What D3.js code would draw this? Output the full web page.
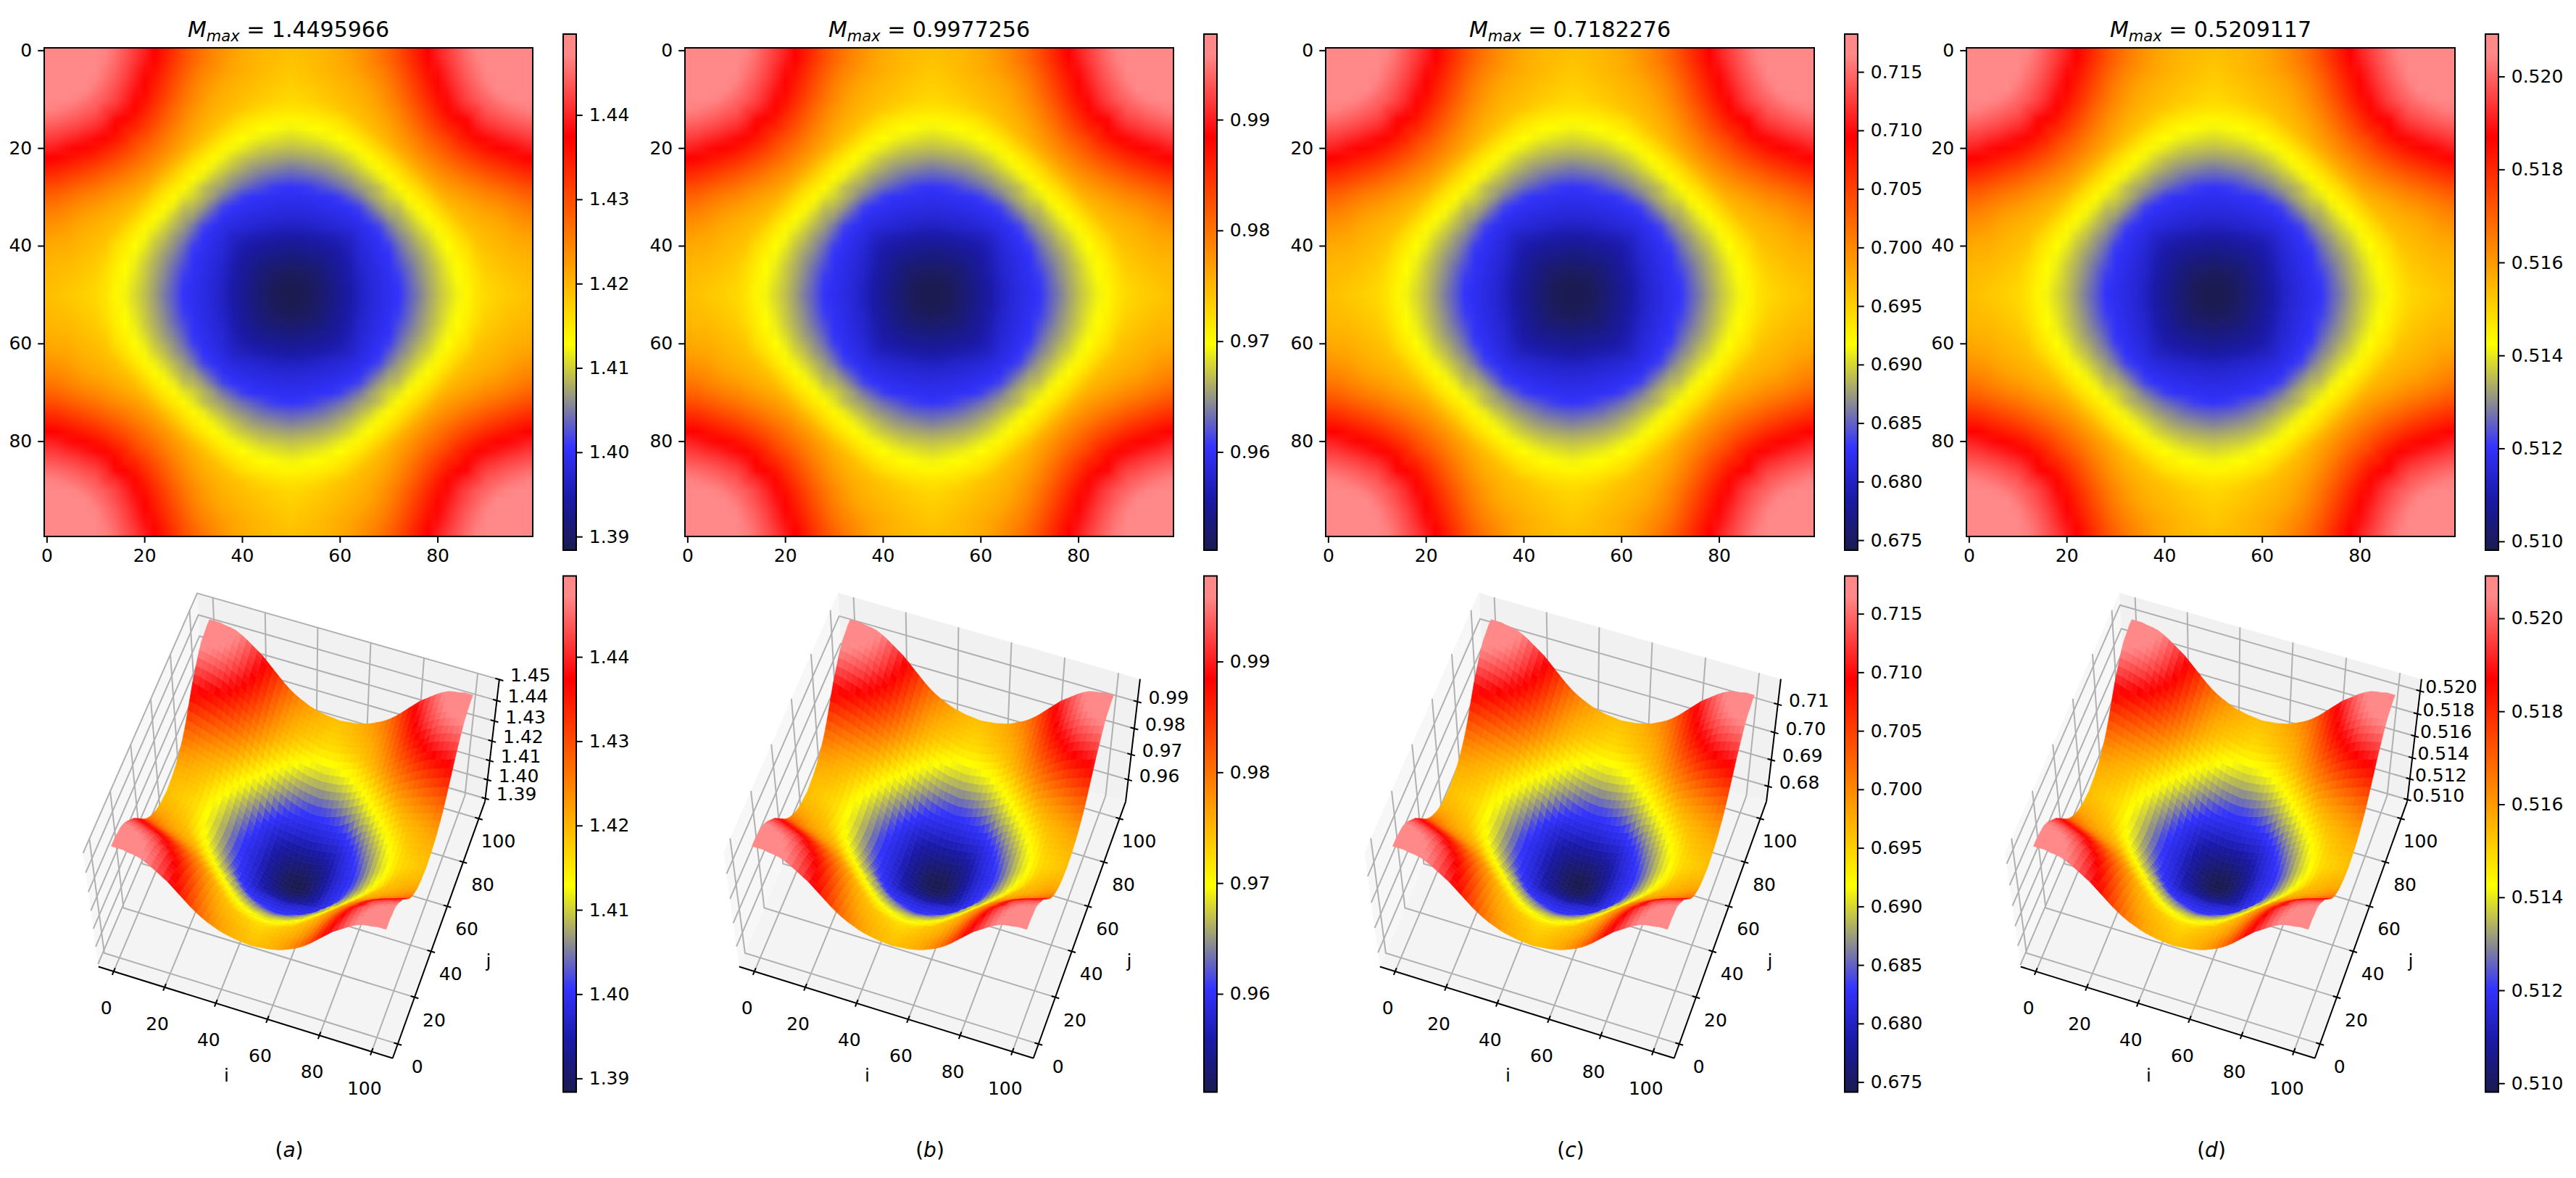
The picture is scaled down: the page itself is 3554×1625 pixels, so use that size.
<!DOCTYPE html>
<html>
<head>
<meta charset="utf-8">
<script src="https://cdn.jsdelivr.net/npm/d3@7"></script>
<style>
  html, body { margin: 0; background: #fff; }
  svg text { font-family: "DejaVu Sans", sans-serif; fill: #000; }
</style>
</head>
<body>
<svg id="chart" width="3554" height="1625"></svg>
<script>
// Values
const panelLetters = ["a", "b", "c", "d"];
const panelTitles = ["1.4495966", "0.9977256", "0.7182276", "0.5209117"];
const panelMin = [1.38838, 0.95113, 0.67414, 0.50981];
const panelMax = [1.4495966, 0.9977256, 0.7182276, 0.5209117];
const barTicks = [
    [1.39, 1.40, 1.41, 1.42, 1.43, 1.44],
    [0.96, 0.97, 0.98, 0.99],
    [0.675, 0.680, 0.685, 0.690, 0.695, 0.700, 0.705, 0.710, 0.715],
    [0.510, 0.512, 0.514, 0.516, 0.518, 0.520]
];
const barFormats = [".2f", ".2f", ".3f", ".3f"];
const zTicks = [
    [1.39, 1.40, 1.41, 1.42, 1.43, 1.44, 1.45],
    [0.96, 0.97, 0.98, 0.99],
    [0.68, 0.69, 0.70, 0.71],
    [0.510, 0.512, 0.514, 0.516, 0.518, 0.520]
];
const zFormats = [".2f", ".2f", ".2f", ".3f"];
const heatTicks = [0, 20, 40, 60, 80];
const surfaceTicks = [0, 20, 40, 60, 80, 100];

// Colormap stops, as a share of each panel's range
const colorStops = [0, 0.1, 0.2, 0.4, 0.8, 0.96, 1];
const colorValues = ["#1b1b50", "#1a1aa6", "#3333ff", "#ffff00", "#ff0000", "#ff8888", "#ff8888"];

// Field level (percent of the panel's range), read every 2 cells on a quarter of the
// map. All four panels show the same shape and the map mirrors about i=50, j=50 and i=j,
// so row r starts at column r.
const levelRows = [
    [100,100,100,99,98.5,97.5,95.5,93,90,87,84,80,76,72,68,64.5,61.5,59,57,55,53.5,52.5,51.5,51,50.5,50],
    [100,100,99,98.5,97,95,92.5,89.5,86.5,83,79.5,75.5,71.5,67.5,64,61,58.5,56.5,54.5,53,52,51,50.5,50,49.5],
    [99,98.7,97.5,96,94,91.5,88.5,85,81.5,78,74,70,66,62.5,59.5,57.5,55.5,54,52.8,51.8,50.8,50,49.2,48.6],
    [98,97,95.5,93,90.5,87.5,84,80.5,76.5,72.5,68.5,64.5,61,58.2,56,54,52.8,51.8,50.8,50,49.2,48.5,48],
    [96,94,91.5,89,86,82.5,79,75,71,67,63,59.5,56.8,54.5,53,51.8,50.8,50,49,48.2,47.5,47],
    [92,90.5,87.8,84.8,81,77.5,73.5,69.5,65.5,61.8,58.5,55.8,53.5,52,50.8,50,49,48.2,47.4,46.5,46],
    [87,85.3,82.5,79,75.5,71.5,67.5,63.5,60,57,54.5,52.5,51,50,48.8,47.4,45.8,44.8,44.5,44.3],
    [81,79.5,76.5,73,69.3,65.5,62,58.5,55.5,53,51.3,50,47.5,45,44,43,42.3,41.7,41.3],
    [75.5,74,70.5,67,63.5,60,56.8,54,51.8,50,47,44.5,43.2,41.8,40.3,39.7,39.2,38.8],
    [70,67.5,64.5,61,58,55.3,52.5,50,46.8,44,42,40,39,38.2,37.5,36.8,36.3],
    [64.5,62,59,56,53.3,50,46.5,43.7,41.2,39.2,37.8,36.4,35,34.6,34.1,33.7],
    [59,56.5,53.5,50,46,43.4,40.7,38.6,36.2,34.5,33.2,32.3,31.6,31,30.7],
    [53.5,50,46,43.3,41,38.3,35.8,33.8,32,30.2,29.2,28.4,27.6,27],
    [46.5,43.5,41,38,35,33,30.5,29,27.5,25.8,24.8,24.2,23.8],
    [41,37.5,34,32,30.2,27.8,25.6,23.8,22.5,21,20.3,19.8],
    [35.5,32.8,30.3,26.5,23.8,21,19.6,19.2,18.9,18.5,18.2],
    [30,26,21.8,19.8,18.9,18.2,17.7,17.3,17,16.8],
    [22.5,19.2,18,17.2,16.6,16.1,15.8,15.5,15.4],
    [17.8,16.5,15.6,15,14.3,13.8,13.2,13],
    [14,13,12,11.4,10.8,10.3,10],
    [11,10,9,8.5,8,7.5],
    [8.5,7.2,6.4,5.8,5.3],
    [5.2,4.3,3.7,3.3],
    [2.6,1.9,1.2],
    [0.6,0.3],
    [0]
];

// Layout
const panelStep = 884;
const heatLeft = 61, heatTop = 66, heatSize = 674;
const barLeft = 777, barWidth = 18, barHeight = 712;
const barTops = [47, 794.5];
const tickLen = 8.75;

// 3D view
const elev = 60 * Math.PI / 180, azim = -71 * Math.PI / 180;
const boxHeight = 0.75, camDist = 8.75, viewScale = 435;
const viewCx = 407, viewCy = 1139;
const surfaceShiftI = 2;

function levelAt(i, j) {
    // index 99 falls on the same sample as index 0 after mirroring
    let a = Math.floor(Math.min(i, 100 - i) / 2);
    let b = Math.floor(Math.min(j, 100 - j) / 2);
    if (a > b) [a, b] = [b, a];
    return levelRows[a][b - a];
}

const svg = d3.select("#chart");
const defs = svg.append("defs");

const w = [Math.cos(elev) * Math.cos(azim), Math.cos(elev) * Math.sin(azim), Math.sin(elev)];
const u = [-Math.sin(azim), Math.cos(azim), 0];
const v = [
    w[1] * u[2] - w[2] * u[1],
    w[2] * u[0] - w[0] * u[2],
    w[0] * u[1] - w[1] * u[0]
];
const dot = (a, b) => a[0] * b[0] + a[1] * b[1] + a[2] * b[2];

function drawPanel(k) {
    const vmin = panelMin[k], vmax = panelMax[k];
    const g = svg.append("g").attr("transform", `translate(${k * panelStep},0)`);

    const color = d3.scaleLinear()
        .domain(colorStops.map(s => vmin + s * (vmax - vmin)))
        .range(colorValues)
        .clamp(true);
    const levelValue = d3.scaleLinear().domain([0, 100]).range([vmin, vmax]);

    drawHeatmap(g, k, color, levelValue);
    drawColorbar(g, k, color, barTops[0]);
    drawColorbar(g, k, color, barTops[1]);
    drawSurface(g, k, color, levelValue);

    // Panel caption
    const caption = g.append("text")
        .attr("x", 399).attr("y", 1596)
        .attr("text-anchor", "middle")
        .style("font-size", "28px");
    caption.append("tspan").text("(");
    caption.append("tspan").style("font-style", "italic").text(panelLetters[k]);
    caption.append("tspan").text(")");
}

function drawHeatmap(g, k, color, levelValue) {
    const x = d3.scaleLinear().domain([-0.5, 99.5]).range([heatLeft, heatLeft + heatSize]);
    const y = d3.scaleLinear().domain([-0.5, 99.5]).range([heatTop, heatTop + heatSize]);

    // Paint one pixel per sample, the browser smooths it when the image is scaled up
    const samples = d3.range(0, 101, 2);
    const canvas = document.createElement("canvas");
    canvas.width = samples.length;
    canvas.height = samples.length;
    const ctx = canvas.getContext("2d");
    samples.forEach((j, row) => {
        samples.forEach((i, col) => {
            ctx.fillStyle = color(levelValue(levelAt(i, j)));
            ctx.fillRect(col, row, 1, 1);
        });
    });

    const clipId = `heat-clip-${k}`;
    defs.append("clipPath").attr("id", clipId)
        .append("rect")
        .attr("x", heatLeft).attr("y", heatTop)
        .attr("width", heatSize).attr("height", heatSize);

    g.append("g").attr("clip-path", `url(#${clipId})`)
        .append("image")
        .attr("href", canvas.toDataURL())
        .attr("x", x(-1)).attr("y", y(-1))
        .attr("width", x(101) - x(-1)).attr("height", y(101) - y(-1))
        .attr("preserveAspectRatio", "none");

    g.append("rect")
        .attr("x", heatLeft).attr("y", heatTop)
        .attr("width", heatSize).attr("height", heatSize)
        .attr("fill", "none").attr("stroke", "#000").attr("stroke-width", 2);

    styleAxis(g.append("g")
        .attr("transform", `translate(0,${heatTop + heatSize})`)
        .call(d3.axisBottom(x).tickValues(heatTicks).tickSize(tickLen).tickPadding(8).tickFormat(d3.format("d"))));
    styleAxis(g.append("g")
        .attr("transform", `translate(${heatLeft},0)`)
        .call(d3.axisLeft(y).tickValues(heatTicks).tickSize(tickLen).tickPadding(8).tickFormat(d3.format("d"))));

    // Title with the subscripted M
    const title = g.append("text")
        .attr("x", heatLeft + heatSize / 2).attr("y", 51)
        .attr("text-anchor", "middle")
        .style("font-size", "30px");
    title.append("tspan").style("font-style", "italic").text("M");
    title.append("tspan").style("font-style", "italic").style("font-size", "21px").attr("dy", 6).text("max");
    title.append("tspan").attr("dy", -6).text(" = " + panelTitles[k]);
}

function drawColorbar(g, k, color, top) {
    const y = d3.scaleLinear().domain([panelMin[k], panelMax[k]]).range([top + barHeight, top]);

    g.append("g").selectAll("rect")
        .data(d3.range(0, 356))
        .join("rect")
        .attr("x", barLeft)
        .attr("y", d => top + d * 2)
        .attr("width", barWidth)
        .attr("height", 2.5)
        .attr("fill", d => color(y.invert(top + d * 2 + 1)));

    g.append("rect")
        .attr("x", barLeft).attr("y", top)
        .attr("width", barWidth).attr("height", barHeight)
        .attr("fill", "none").attr("stroke", "#000").attr("stroke-width", 2);

    styleAxis(g.append("g")
        .attr("transform", `translate(${barLeft + barWidth},0)`)
        .call(d3.axisRight(y).tickValues(barTicks[k]).tickSize(tickLen).tickPadding(9).tickFormat(d3.format(barFormats[k]))));
}

function styleAxis(axis) {
    axis.select(".domain").remove();
    axis.selectAll("line").attr("stroke", "#000").attr("stroke-width", 2);
    axis.selectAll("text").style("font-size", "25px").style("font-family", "DejaVu Sans");
}

function drawSurface(g, k, color, levelValue) {
    const ij = d3.scaleLinear().domain([-6, 108]).range([0, 1]);
    const zTop = panelMax[k] + (panelMax[k] - panelMin[k]) * 0.01;
    const z = d3.scaleLinear().domain([panelMin[k], zTop]).range([0, boxHeight]);

    // Box coordinates to screen, x and y in 0..1, z in 0..boxHeight
    function project(px, py, pz) {
        const p = [px - 0.5, py - 0.5, pz - boxHeight / 2];
        const depth = camDist - dot(p, w);
        const f = viewScale * camDist / depth;
        return [viewCx + f * dot(p, u), viewCy - f * dot(p, v), depth];
    }

    const line = d3.line().x(d => d[0]).y(d => d[1]);
    const polygon = pts => line(pts.map(d => project(d[0], d[1], d[2]))) + "Z";
    const gridStroke = sel => sel.attr("fill", "none").attr("stroke", "#b0b0b0").attr("stroke-width", 2);

    // Panes
    g.append("path").attr("fill", "#f4f4f4")
        .attr("d", polygon([[0, 0, 0], [1, 0, 0], [1, 1, 0], [0, 1, 0]]));
    g.append("path").attr("fill", "#f1f1f1")
        .attr("d", polygon([[0, 1, 0], [1, 1, 0], [1, 1, boxHeight], [0, 1, boxHeight]]));
    g.append("path").attr("fill", "#f7f7f7")
        .attr("d", polygon([[0, 0, 0], [0, 1, 0], [0, 1, boxHeight], [0, 0, boxHeight]]));

    // Grid lines on the floor and the two back walls
    surfaceTicks.forEach(t => {
        const s = ij(t);
        gridStroke(g.append("path")).attr("d", line([[s, 0, 0], [s, 1, 0], [s, 1, boxHeight]].map(d => project(...d))));
        gridStroke(g.append("path")).attr("d", line([[1, s, 0], [0, s, 0], [0, s, boxHeight]].map(d => project(...d))));
    });
    zTicks[k].forEach(t => {
        const h = z(t);
        gridStroke(g.append("path")).attr("d", line([[0, 0, h], [0, 1, h], [1, 1, h]].map(d => project(...d))));
    });

    // Surface facets, one per 2 cells, far ones first
    const steps = d3.range(0, 99, 2).concat([99]);
    const corner = (i, j) => {
        const level = levelAt(i, j);
        return { p: project(ij(i + surfaceShiftI), ij(j), z(levelValue(level))), level };
    };
    const facets = [];
    for (let a = 0; a < steps.length - 1; a++) {
        for (let b = 0; b < steps.length - 1; b++) {
            const c = [
                corner(steps[a], steps[b]),
                corner(steps[a + 1], steps[b]),
                corner(steps[a + 1], steps[b + 1]),
                corner(steps[a], steps[b + 1])
            ];
            facets.push({
                d: line(c.map(e => e.p)) + "Z",
                fill: color(levelValue(d3.mean(c, e => e.level))),
                depth: d3.mean(c, e => e.p[2])
            });
        }
    }
    facets.sort((a, b) => b.depth - a.depth);
    g.append("g").selectAll("path")
        .data(facets)
        .join("path")
        .attr("d", d => d.d)
        .attr("fill", d => d.fill)
        .attr("stroke", d => d.fill)
        .attr("stroke-width", 0.7);

    // Axis lines
    const axisLine = (pts) => g.append("path")
        .attr("d", line(pts.map(d => project(...d))))
        .attr("fill", "none").attr("stroke", "#000").attr("stroke-width", 2);
    axisLine([[0, 0, 0], [1, 0, 0]]);
    axisLine([[1, 0, 0], [1, 1, 0]]);
    axisLine([[1, 1, 0], [1, 1, boxHeight]]);

    const tickLabel = (pos, dx, dy, text) => g.append("text")
        .attr("x", pos[0] + dx).attr("y", pos[1] + dy)
        .attr("text-anchor", "middle")
        .attr("dy", "0.36em")
        .style("font-size", "25px")
        .text(text);

    const half = 0.013;
    surfaceTicks.forEach(t => {
        const s = ij(t);
        axisLine([[s, -half, 0], [s, half, 0]]);
        axisLine([[1 - half, s, 0], [1 + half, s, 0]]);
        tickLabel(project(s, 0, 0), -10, 50, t);
        tickLabel(project(1, s, 0), 27, 31, t);
    });
    const zFormat = d3.format(zFormats[k]);
    zTicks[k].forEach(t => {
        const h = z(t);
        axisLine([[1 - half, 1, h], [1 + half, 1, h]]);
        tickLabel(project(1, 1, h), 43, -6, zFormat(t));
    });

    // Axis names
    tickLabel([312.6, 1483], 0, 0, "i");
    tickLabel([674, 1325], 0, 0, "j");
}

panelLetters.forEach((d, k) => drawPanel(k));
</script>
</body>
</html>
